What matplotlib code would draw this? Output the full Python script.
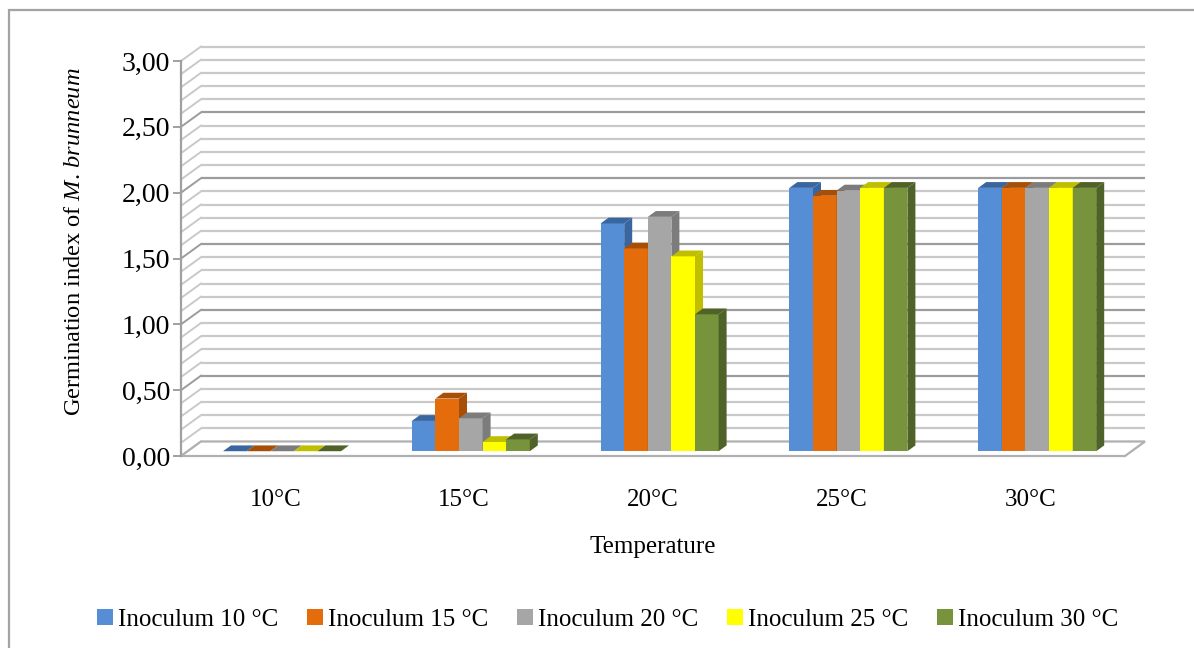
import matplotlib
matplotlib.use("Agg")
import matplotlib.pyplot as plt
from matplotlib.patches import Polygon, Rectangle, Patch
from matplotlib.ticker import FuncFormatter
import numpy as np

plt.rcParams['font.family'] = ['Liberation Serif', 'DejaVu Serif']
plt.rcParams['mathtext.fontset'] = 'custom'
plt.rcParams['mathtext.rm'] = 'Liberation Serif'
plt.rcParams['mathtext.it'] = 'Liberation Serif:italic'

# ---- data ----
temperatures = ['10°C', '15°C', '20°C', '25°C', '30°C']
series_names = ['Inoculum 10 °C', 'Inoculum 15 °C', 'Inoculum 20 °C',
                'Inoculum 25 °C', 'Inoculum 30 °C']
inoc_10 = [0.00, 0.23, 1.73, 2.00, 2.00]
inoc_15 = [0.00, 0.40, 1.54, 1.94, 2.00]
inoc_20 = [0.00, 0.25, 1.78, 1.98, 2.00]
inoc_25 = [0.00, 0.07, 1.48, 2.00, 2.00]
inoc_30 = [0.00, 0.09, 1.04, 2.00, 2.00]
series = [inoc_10, inoc_15, inoc_20, inoc_25, inoc_30]

face_colors = ['#558ED5', '#E46C0A', '#A6A6A6', '#FFFF00', '#77933C']
shade_colors = ['#3A66A0', '#A84F07', '#7C7C7C', '#BFBF00', '#4F6228']

y_max = 3.0
major_step = 0.5
minor_step = 0.1

# ---- figure / axes ----
W, H = 1194, 648
fig = plt.figure(figsize=(W / 100, H / 100), dpi=100)
ax_l, ax_r, ax_t, ax_b = 181, 1125, 61, 456
ax = fig.add_axes([ax_l / W, 1 - ax_b / H, (ax_r - ax_l) / W, (ax_b - ax_t) / H])
n_cat = len(temperatures)
ax.set_xlim(-0.5, n_cat - 0.5)
ax.set_ylim(0, y_max)
for s in ax.spines.values():
    s.set_visible(False)
ax.patch.set_visible(False)

# depth of the pseudo-3D box in data units
px_x = (ax_r - ax_l) / n_cat
px_y = (ax_b - ax_t) / y_max
DX = 20 / px_x
DY = 14.5 / px_y

grid_minor = '#c9c9c9'
grid_major = '#9c9c9c'
x_front_l, x_front_r = -0.5, n_cat - 0.5

levels = np.round(np.arange(0, y_max + 1e-9, minor_step), 2)
for v in levels:
    is_major = abs(v / major_step - round(v / major_step)) < 1e-6
    c = grid_major if (is_major and 0 < v < y_max) else grid_minor
    # back wall line
    ax.plot([x_front_l + DX, x_front_r + DX], [v + DY, v + DY], color=c,
            lw=1.6, zorder=1, clip_on=False, solid_capstyle='butt')
    # side wall line
    ax.plot([x_front_l, x_front_l + DX], [v, v + DY], color=c,
            lw=1.4, zorder=1, clip_on=False)

# floor
floor = Polygon([(x_front_l, 0), (x_front_r, 0), (x_front_r + DX, DY),
                 (x_front_l + DX, DY)], closed=True, facecolor='white',
                edgecolor='#b0b0b0', lw=1.6, zorder=2, clip_on=False)
ax.add_patch(floor)

# front vertical axis line
ax.plot([x_front_l, x_front_l], [0, y_max], color='#a0a0a0', lw=1.6,
        zorder=2, clip_on=False)

# ---- bars ----
n_ser = len(series)
bw = 0.125
f0 = 0.33      # depth position of bar front
bd = 0.40      # bar depth fraction
z = 3
for i in range(n_cat):
    for j in range(n_ser):
        val = series[j][i]
        x0 = i - n_ser * bw / 2 + j * bw + f0 * DX
        b = f0 * DY
        t = b + val
        ax.bar(x0, val, width=bw, bottom=b, align='edge', color=face_colors[j],
               edgecolor='none', zorder=z, clip_on=False)
        top = Polygon([(x0, t), (x0 + bw, t), (x0 + bw + bd * DX, t + bd * DY),
                       (x0 + bd * DX, t + bd * DY)], closed=True,
                      facecolor=shade_colors[j], edgecolor='none', zorder=z,
                      clip_on=False)
        side = Polygon([(x0 + bw, b), (x0 + bw, t), (x0 + bw + bd * DX, t + bd * DY),
                        (x0 + bw + bd * DX, b + bd * DY)], closed=True,
                       facecolor=shade_colors[j], edgecolor='none', zorder=z,
                       clip_on=False)
        ax.add_patch(top)
        ax.add_patch(side)
        z += 1

# ---- ticks / labels ----
ax.set_yticks(np.arange(0, y_max + 1e-9, major_step))
ax.yaxis.set_major_formatter(FuncFormatter(lambda v, p: f'{v:.2f}'.replace('.', ',')))
ax.tick_params(axis='y', length=6, width=1.4, color='#a0a0a0', pad=2,
               labelsize=20, labelcolor='black')
ax.set_xticks(range(n_cat))
ax.set_xticklabels(temperatures)
ax.tick_params(axis='x', length=0, pad=24, labelsize=18, labelcolor='black')

fig.text(653 / W, 1 - 547 / H, 'Temperature', ha='center', va='center',
         fontsize=18)
fig.text(75 / W, 1 - 242 / H, r'Germination index of $\it{M.\,brunneum}$',
         rotation=90, ha='center', va='center', fontsize=17.6)

handles = [Patch(facecolor=c, edgecolor='none') for c in face_colors]
fig.legend(handles, series_names, loc='center', bbox_to_anchor=(608 / W, 1 - 620 / H),
           ncol=5, frameon=False, fontsize=18, handlelength=0.62,
           handleheight=0.62, handletextpad=0.22, columnspacing=1.15,
           borderpad=0)

# chart border
fig.patches.append(Rectangle((9 / W, -0.1), 1.2, 1 - 10 / H + 0.1,
                             transform=fig.transFigure, fill=False,
                             edgecolor='#a3a3a3', lw=1.6))

fig.savefig('out.png', dpi=100)
